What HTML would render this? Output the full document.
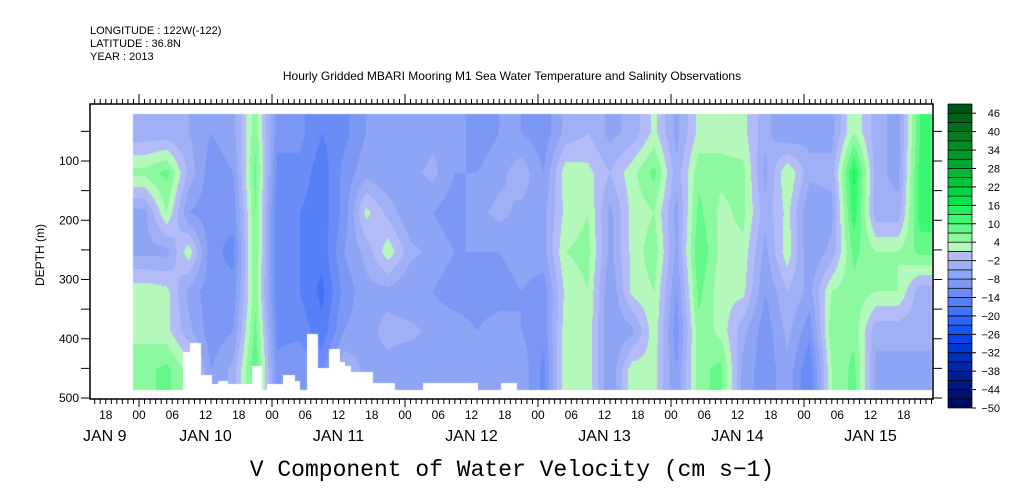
<!DOCTYPE html>
<html><head><meta charset="utf-8">
<style>
body{margin:0;background:#fff;width:1009px;height:504px;overflow:hidden;font-family:"Liberation Sans",sans-serif;}
#wrap{position:relative;width:1009px;height:504px;}
canvas,svg{position:absolute;left:0;top:0;}
</style></head>
<body>
<div id="wrap">
<canvas id="field" width="1009" height="504"></canvas>
<svg id="ax" width="1009" height="504"></svg>
</div>
<script>
// ---- data ----
const startHour = -1;            // hours relative to JAN 10 00:00
const colHours = 4;              // width of each column in hours
const rowDepths = [53,120,187,253,320,387,453]; // depth bin centers (m)
const vcols = [
[-4,5,-6,-6,3,3,6],[-4,8,4,-6,2,2,8],[-5,-3,-8,3,-6,-4,3],[-8,-10,-10,-10,-10,-10,-8],
[-6,-8,-10,-12,-10,-8,-4],[6,8,7,7,6,8,10],[-10,-12,-14,-14,-14,-12,-10],[-10,-12,-14,-14,-14,-12,-8],
[-14,-16,-16,-16,-18,-16,-12],[-12,-10,-10,-8,-10,-8,-2],[-8,-6,2,-4,-6,-6,-6],[-6,-8,-3,3,-6,-4,-6],
[-8,-6,-8,-4,-8,-4,-8],[-6,-4,-8,-6,-8,-6,-8],[-6,-8,-10,-8,-10,-6,-8],[-10,-8,-6,-8,-10,-8,-8],
[-8,-6,-4,-8,-10,-6,-6],[-8,-3,-6,-6,-8,-8,-6],[-10,-8,-6,-6,-10,-10,-12],[-4,3,2,4,2,3,4],
[-2,2,4,5,4,3,3],[-6,-2,-6,-6,-8,-8,-8],[-4,3,2,2,2,-6,3],[2,8,4,6,4,3,2],
[-6,-4,-6,-6,-8,-10,-8],[2,6,8,10,8,6,6],[3,5,3,3,2,3,8],[2,5,5,3,2,-4,-6],
[-4,-6,-4,-6,-8,-10,-10],[-8,4,2,3,-2,-4,-6],[-6,-4,-8,-8,-6,-10,-14],[-6,-4,-6,-4,4,6,4],
[4,14,12,8,6,6,8],[-4,-4,-4,4,4,-4,-6],[-6,-6,-4,4,4,-4,-6],[10,12,12,8,-4,-4,-6]
];
// bottom data gaps: [startHour, endHour, topDepth]
const gapStart = [7.9,9.2,11.2,13.2,14.3,16.1,20.4,23.1,26.0,28.1,30.3,32.3,34.3,36.3,37.2,38.3,42.2,51.2,65.3];
const gapEnd   = [9.2,11.2,13.2,14.3,16.1,20.4,22.2,26.0,28.1,29.1,32.3,34.3,36.3,37.2,38.3,42.2,46.2,61.2,68.2];
const gapTop   = [422,407,461,476,471,476,446,476,461,471,392,449,417,439,446,456,475,475,475];
const levelColors = ["#000a5c","#001070","#001683","#001e96","#0026aa","#002ebe","#0036d2","#0a44e6","#1a55f5","#2e66fa","#4274fa","#5680f8","#6a8cf6","#7c98f4","#8ea4f4","#a0b0f6","#b4bcf8","#b4f8bc","#8cf8a0","#64f888","#3cf870","#1ef25a","#00e64c","#00d844","#00c83c","#00b836","#00a830","#009a2a","#008c26","#007e20","#00701c","#006218","#005414"];
const cbLabels = [46,40,34,28,22,16,10,4,-2,-8,-14,-20,-26,-32,-38,-44,-50];
const yTicks = [100,200,300,400,500];
const timeLabels = ["18","00","06","12","18","00","06","12","18","00","06","12","18","00","06","12","18","00","06","12","18","00","06","12","18","00","06","12","18"];
const dayLabels = ["JAN 10","JAN 11","JAN 12","JAN 13","JAN 14","JAN 15"];

// ---- axes ----
const X0=139, PXH=5.542;
const xs = h => X0 + h*PXH;
const ys = d => 161 + (d-100)*0.5925;
const dataTop=20, dataBot=486, hEnd=143;

// field
const cv=document.getElementById('field'), ctx=cv.getContext('2d');
function hex(c){return [parseInt(c.substr(1,2),16),parseInt(c.substr(3,2),16),parseInt(c.substr(5,2),16)];}
const lc=levelColors.map(hex);
const x1=Math.round(xs(startHour)), x2=Math.round(xs(hEnd)), y1=Math.round(ys(dataTop)), y2=Math.round(ys(dataBot));
const img=ctx.createImageData(x2-x1,y2-y1);
const nc=vcols.length, nr=rowDepths.length;
for(let py=y1;py<y2;py++){
  const d=100+(py+0.5-161)/0.5925;
  let rf=0; for(let r=0;r<nr-1;r++){ if(d>=rowDepths[r]) rf=r+Math.min(1,(d-rowDepths[r])/(rowDepths[r+1]-rowDepths[r])); }
  if(d<rowDepths[0]) rf=0;
  const r0=Math.floor(rf), r1=Math.min(nr-1,r0+1), tr=rf-r0;
  for(let px=x1;px<x2;px++){
    const h=(px+0.5-X0)/PXH;
    let cf=(h-startHour)/colHours-0.5; cf=Math.max(0,Math.min(nc-1,cf));
    const c0=Math.floor(cf), c1=Math.min(nc-1,c0+1), tc=cf-c0;
    const v=(vcols[c0][r0]*(1-tc)+vcols[c1][r0]*tc)*(1-tr)+(vcols[c0][r1]*(1-tc)+vcols[c1][r1]*tc)*tr;
    let k=Math.floor((v+50)/3); k=Math.max(0,Math.min(lc.length-1,k));
    let gap=false;
    for(let g=0;g<gapStart.length;g++){ if(h>=gapStart[g]&&h<gapEnd[g]&&d>=gapTop[g]) {gap=true;break;} }
    const i=((py-y1)*(x2-x1)+(px-x1))*4;
    const col=gap?[255,255,255]:lc[k];
    img.data[i]=col[0];img.data[i+1]=col[1];img.data[i+2]=col[2];img.data[i+3]=255;
  }
}
ctx.putImageData(img,x1,y1);

// svg
const NS="http://www.w3.org/2000/svg", svg=document.getElementById('ax');
function el(t,a,txt){const e=document.createElementNS(NS,t);for(const k in a)e.setAttribute(k,a[k]);if(txt!==undefined)e.textContent=txt;svg.appendChild(e);return e;}
const FL=90, FR=933, FT=104, FB=399;
let e;
e=el('rect',{x:FL,y:FT,width:FR-FL,height:FB-FT,fill:'none',stroke:'#000','stroke-width':1.5});


// hourly ticks
for(let h=-8;h<=143;h++){
  const x=xs(h); if(x<FL||x>FR) continue;
  const major=((h%24)+24)%24===0;
  el('line',{x1:x,y1:FB,x2:x,y2:FB+(major?8:5),stroke:'#000','stroke-width':1});
  el('line',{x1:x,y1:FT,x2:x,y2:FT-(major?10:5),stroke:'#000','stroke-width':1});
}
// time labels
timeLabels.forEach((t,i)=>{
  const h=-6+i*6;
  if(xs(h)>FR) return;
  const tx=el('text',{x:xs(h),y:419,'font-size':12,'text-anchor':'middle',fill:'#000'},t);
  
  
});
e=el('text',{x:83,y:441,'font-size':16,fill:'#000','xml:space':'preserve'},'JAN   9');


dayLabels.forEach((t,i)=>{
  const tx=el('text',{x:xs(12+24*i),y:441,'font-size':16,'text-anchor':'middle',fill:'#000'},t);
  
  
});
// y ticks
for(let d=50;d<=500;d+=50){
  const y=ys(d);
  el('line',{x1:FL-9,y1:y,x2:FL,y2:y,stroke:'#000','stroke-width':1});
  el('line',{x1:FR,y1:y,x2:FR+9,y2:y,stroke:'#000','stroke-width':1});
}
yTicks.forEach(d=>{
  const tx=el('text',{x:79,y:ys(d)+4,'font-size':12,'text-anchor':'end',fill:'#000'},String(d));
  
  
});
e=el('text',{x:0,y:0,'font-size':12,'text-anchor':'middle',transform:'translate(44,255) rotate(-90)',fill:'#000'},'DEPTH (m)');


// colorbar
const CBT=104, CBB=408, bh=(CBB-CBT)/levelColors.length;
levelColors.forEach((c,k)=>{
  const r=el('rect',{x:948,y:CBB-(k+1)*bh,width:24,height:bh,fill:c,stroke:'#000','stroke-width':0.7});
  
  
});
cbLabels.forEach(v=>{
  const y=CBB-(v+50)/3*bh;
  el('line',{x1:972,y1:y,x2:976,y2:y,stroke:'#000','stroke-width':1});
  const tx=el('text',{x:1000,y:y+4,'font-size':11,'text-anchor':'end',fill:'#000'},v<0?'\u2212'+(-v):String(v));
  
  
});
// titles
[['LONGITUDE : 122W(-122)',34],['LATITUDE : 36.8N',47],['YEAR : 2013',60]].forEach(p=>{
  const tx=el('text',{x:90,y:p[1],'font-size':11,fill:'#000'},p[0]);
  
  
});
e=el('text',{x:512,y:80,'font-size':12,'text-anchor':'middle',fill:'#000'},'Hourly Gridded MBARI Mooring M1 Sea Water Temperature and Salinity Observations');


e=el('text',{x:512,y:476,'font-size':23,'text-anchor':'middle',fill:'#000','font-family':'Liberation Mono, monospace'},'V Component of Water Velocity (cm s\u22121)');


</script>
</body></html>
